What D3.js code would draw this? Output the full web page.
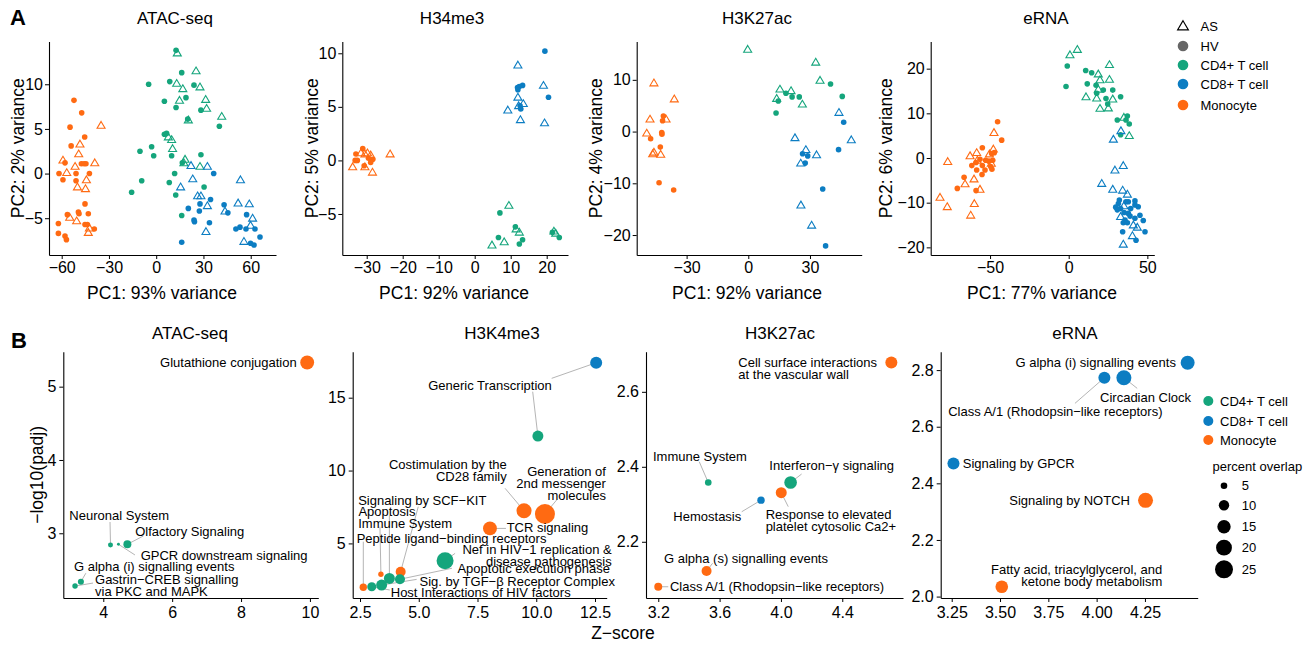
<!DOCTYPE html>
<html>
<head>
<meta charset="utf-8">
<script src="https://cdn.jsdelivr.net/npm/d3@7"></script>
<style>
body { margin: 0; background: #fff; }
svg text { font-family: "Liberation Sans", Arial, Helvetica, sans-serif; fill: #000; }
</style>
</head>
<body>
<svg id="chart" width="1314" height="646"></svg>
<script>
// ---------- data ----------
const cellKeys = ["CD4", "CD8", "Mono"];
const cellNames = ["CD4+ T cell", "CD8+ T cell", "Monocyte"];
const statusNames = ["AS", "HV"];

// PCA rows: [cell, status, PC1, PC2]
const atacPca = [
	["Mono","HV",-52.2,8.2],["Mono","HV",-47.3,6.8],["Mono","HV",-54.7,5.2],["Mono","HV",-45.4,4.1],["Mono","HV",-54.0,3.1],
	["Mono","HV",-47.5,1.1],["Mono","HV",-45.8,1.1],["Mono","HV",-44.6,1.1],["Mono","HV",-57.9,1.2],["Mono","HV",-61.7,0.0],
	["Mono","HV",-59.2,-0.7],["Mono","HV",-50.9,0.0],["Mono","HV",-50.9,-0.8],["Mono","HV",-42.4,0.0],["Mono","HV",-45.2,-3.4],
	["Mono","HV",-49.4,-4.3],["Mono","HV",-49.0,-4.5],["Mono","HV",-56.4,-4.6],["Mono","HV",-43.1,-4.5],["Mono","HV",-62.1,-5.6],
	["Mono","HV",-45.2,-5.7],["Mono","HV",-43.7,-5.7],["Mono","HV",-39.3,-6.2],["Mono","HV",-62.1,-6.7],["Mono","HV",-57.9,-7.0],
	["Mono","HV",-57.0,-7.4],
	["Mono","AS",-35.0,5.4],["Mono","AS",-48.4,3.3],["Mono","AS",-49.2,2.2],["Mono","AS",-59.2,1.5],["Mono","AS",-51.5,0.8],
	["Mono","AS",-39.0,1.2],["Mono","AS",-56.8,0.1],["Mono","AS",-44.3,-0.7],["Mono","AS",-50.0,-1.5],["Mono","AS",-44.9,-1.7],
	["Mono","AS",-54.9,-4.9],["Mono","AS",-50.5,-5.3],["Mono","AS",-42.4,-6.1],["Mono","AS",-43.1,-6.6],
	["CD4","HV",12.6,13.8],["CD4","HV",16.2,11.3],["CD4","HV",-4.8,10.0],["CD4","HV",8.6,10.3],["CD4","HV",24.0,9.9],
	["CD4","HV",5.2,8.1],["CD4","HV",18.9,8.5],["CD4","HV",12.6,7.4],["CD4","HV",20.0,6.1],["CD4","HV",40.1,5.3],
	["CD4","HV",5.2,4.4],["CD4","HV",6.6,4.5],["CD4","HV",-2.9,3.0],["CD4","HV",-10.3,2.5],["CD4","HV",-1.6,2.0],
	["CD4","HV",9.8,2.0],["CD4","HV",16.6,1.2],["CD4","HV",28.4,2.1],["CD4","HV",-9.2,-0.8],["CD4","HV",11.7,0.0],
	["CD4","HV",8.3,-1.0],["CD4","HV",12.4,-2.4],["CD4","HV",30.4,-1.5],["CD4","HV",16.2,-4.7],["CD4","HV",-15.6,-2.1],
	["CD4","HV",28.4,7.1],
	["CD4","AS",13.4,13.5],["CD4","AS",25.3,11.5],["CD4","AS",13.0,10.1],["CD4","AS",16.9,9.5],["CD4","AS",27.8,9.7],
	["CD4","AS",14.8,8.2],["CD4","AS",31.4,8.3],["CD4","AS",32.0,7.3],["CD4","AS",41.6,6.4],["CD4","AS",20.4,6.0],
	["CD4","AS",7.7,4.1],["CD4","AS",9.8,3.8],["CD4","AS",10.4,2.8],["CD4","AS",18.3,1.6],["CD4","AS",17.6,1.2],
	["CD4","AS",27.8,0.8],
	["CD8","HV",36.5,0.0],["CD8","HV",20.4,-3.9],["CD8","HV",27.4,-4.2],["CD8","HV",27.8,-3.4],["CD8","HV",34.5,-2.9],
	["CD8","HV",24.0,-5.2],["CD8","HV",24.3,-5.4],["CD8","HV",33.8,-5.5],["CD8","HV",43.1,-3.5],["CD8","HV",45.5,-4.4],
	["CD8","HV",16.2,-7.7],["CD8","HV",57.4,-4.6],["CD8","HV",50.6,-6.2],["CD8","HV",53.2,-6.0],["CD8","HV",57.0,-6.2],
	["CD8","HV",62.7,-6.2],["CD8","HV",65.9,-7.1],["CD8","HV",59.9,-7.8],["CD8","HV",62.1,-8.0],
	["CD8","AS",22.1,0.9],["CD8","AS",32.5,0.8],["CD8","AS",23.2,-0.6],["CD8","AS",15.5,-1.5],["CD8","AS",26.3,-2.5],
	["CD8","AS",28.4,-2.5],["CD8","AS",32.5,-3.6],["CD8","AS",43.7,-4.2],["CD8","AS",52.0,-3.3],["CD8","AS",59.1,-3.4],
	["CD8","AS",53.5,-0.7],["CD8","AS",61.2,-5.0],["CD8","AS",59.9,-5.8],["CD8","AS",31.6,-6.5],["CD8","AS",55.7,-7.6]
];

const h3k4Pca = [
	["Mono","HV",-31.1,1.1],["Mono","HV",-33.0,0.6],["Mono","HV",-33.2,0.0],["Mono","HV",-32.6,0.0],["Mono","HV",-28.3,0.1],
	["Mono","HV",-28.9,-0.2],["Mono","HV",-30.7,-0.5],["Mono","HV",-29.5,0.2],
	["Mono","AS",-30.5,0.6],["Mono","AS",-29.8,0.7],["Mono","AS",-28.9,0.5],["Mono","AS",-23.5,0.6],["Mono","AS",-33.9,-0.6],
	["Mono","AS",-30.5,-0.6],["Mono","AS",-28.4,-1.1],["Mono","AS",-31.6,0.7],
	["CD8","HV",19.5,10.2],["CD8","HV",11.9,6.8],["CD8","HV",12.4,6.9],["CD8","HV",13.3,7.0],["CD8","HV",12.6,5.1],
	["CD8","HV",12.8,4.8],["CD8","HV",20.5,5.9],["CD8","HV",12.0,6.6],
	["CD8","AS",12.0,8.9],["CD8","AS",19.1,7.0],["CD8","AS",12.0,5.9],["CD8","AS",13.5,5.3],["CD8","AS",9.2,4.7],
	["CD8","AS",12.7,3.8],["CD8","AS",19.4,3.5],["CD8","AS",12.2,5.1],
	["CD4","HV",7.0,-4.9],["CD4","HV",6.6,-7.2],["CD4","HV",11.3,-6.2],["CD4","HV",13.3,-7.4],["CD4","HV",12.4,-7.8],
	["CD4","HV",21.6,-6.7],["CD4","HV",23.5,-7.2],
	["CD4","AS",9.5,-4.2],["CD4","AS",4.8,-7.9],["CD4","AS",8.2,-7.6],["CD4","AS",11.5,-6.4],["CD4","AS",12.4,-6.7],
	["CD4","AS",22.0,-6.6],["CD4","AS",22.5,-6.8]
];

const h3k27Pca = [
	["Mono","AS",-45.9,9.4],["Mono","AS",-36.0,6.3],["Mono","AS",-47.8,2.4],["Mono","AS",-40.0,2.4],["Mono","AS",-49.4,-0.3],
	["Mono","AS",-45.9,-4.0],["Mono","AS",-46.5,-4.3],["Mono","AS",-42.6,-4.4],
	["Mono","HV",-41.3,3.0],["Mono","HV",-41.7,2.1],["Mono","HV",-42.1,-0.2],["Mono","HV",-42.0,-0.5],["Mono","HV",-47.5,-1.4],
	["Mono","HV",-42.8,-3.0],["Mono","HV",-43.4,-9.9],["Mono","HV",-36.3,-11.3],
	["CD4","AS",-0.3,15.9],["CD4","AS",32.8,13.4],["CD4","AS",34.9,9.9],["CD4","AS",15.4,8.2],["CD4","AS",20.8,7.9],
	["CD4","AS",13.8,6.4],["CD4","AS",26.3,5.3],
	["CD4","HV",40.0,9.2],["CD4","HV",45.7,6.8],["CD4","HV",18.3,7.4],["CD4","HV",14.6,5.9],["CD4","HV",21.3,6.7],
	["CD4","HV",24.8,6.7],["CD4","HV",13.5,3.6],
	["CD8","AS",22.7,-1.2],["CD8","AS",28.0,-3.5],["CD8","AS",25.5,-6.1],["CD8","AS",33.2,-4.5],["CD8","AS",44.1,3.7],
	["CD8","AS",50.1,-1.6],["CD8","AS",25.6,-14.2],["CD8","AS",30.8,-18.1],
	["CD8","HV",46.4,1.8],["CD8","HV",43.9,-3.5],["CD8","HV",26.4,-4.3],["CD8","HV",28.9,-4.7],["CD8","HV",27.7,-6.1],
	["CD8","HV",36.2,-11.1],["CD8","HV",37.6,-22.1]
];

const ernaPca = [
	["CD4","AS",0.8,23.1],["CD4","AS",5.5,24.3],["CD4","AS",25.9,20.9],["CD4","AS",18.8,18.8],["CD4","AS",19.9,17.5],
	["CD4","AS",25.9,17.6],["CD4","AS",11.0,13.7],["CD4","AS",17.8,13.4],["CD4","AS",18.8,15.4],["CD4","AS",28.0,13.2],
	["CD4","AS",19.9,11.1],["CD4","AS",25.2,11.2],["CD4","AS",38.5,5.0],["CD4","AS",35.1,9.1],
	["CD4","HV",-0.9,20.6],["CD4","HV",-1.7,16.0],["CD4","HV",10.8,19.6],["CD4","HV",14.6,19.1],["CD4","HV",11.8,16.6],
	["CD4","HV",17.4,16.3],["CD4","HV",17.8,14.5],["CD4","HV",23.7,13.3],["CD4","HV",22.0,15.2],["CD4","HV",28.0,15.2],
	["CD4","HV",33.0,13.7],["CD4","HV",30.9,8.5],["CD4","HV",36.4,8.5],["CD4","HV",37.3,9.4],["CD4","HV",38.5,7.6],
	["CD4","HV",33.0,5.2],["CD4","HV",24.8,12.1],
	["Mono","HV",-45.2,8.1],["Mono","HV",-42.6,4.0],["Mono","HV",-54.9,2.3],["Mono","HV",-47.3,1.2],["Mono","HV",-49.0,1.0],
	["Mono","HV",-50.7,-0.7],["Mono","HV",-56.4,-0.3],["Mono","HV",-58.9,-1.0],["Mono","HV",-52.8,-0.5],["Mono","HV",-49.6,-1.9],
	["Mono","HV",-54.9,-1.7],["Mono","HV",-55.1,-3.7],["Mono","HV",-53.2,-2.7],["Mono","HV",-58.5,-2.7],["Mono","HV",-66.5,-4.3],
	["Mono","HV",-70.8,-6.8],["Mono","HV",-58.9,-7.3],["Mono","HV",-48.8,-2.5],["Mono","HV",-48.3,-0.5],["Mono","HV",-61.6,-1.7],
	["Mono","AS",-47.5,5.7],["Mono","AS",-47.9,2.0],["Mono","AS",-50.4,0.9],["Mono","AS",-62.7,0.5],["Mono","AS",-58.5,1.2],
	["Mono","AS",-76.9,-0.8],["Mono","AS",-58.1,-0.5],["Mono","AS",-65.9,-5.8],["Mono","AS",-60.2,-4.7],["Mono","AS",-56.4,-7.0],
	["Mono","AS",-60.0,-10.2],["Mono","AS",-81.8,-8.8],["Mono","AS",-77.2,-10.9],["Mono","AS",-62.3,-12.8],["Mono","AS",-49.2,-1.2],
	["CD8","AS",33.2,6.1],["CD8","AS",28.4,4.2],["CD8","AS",34.7,-1.7],["CD8","AS",29.4,-2.7],["CD8","AS",21.0,-5.7],
	["CD8","AS",28.0,-7.0],["CD8","AS",34.3,-7.2],["CD8","AS",37.3,-8.1],["CD8","AS",35.1,-10.7],["CD8","AS",33.0,-13.1],
	["CD8","AS",41.1,-15.0],["CD8","AS",43.6,-15.5],["CD8","AS",40.5,-17.4],["CD8","AS",34.7,-19.3],
	["CD8","HV",32.2,-9.4],["CD8","HV",36.4,-9.8],["CD8","HV",37.9,-9.8],["CD8","HV",42.1,-9.6],["CD8","HV",31.6,-10.2],
	["CD8","HV",29.9,-11.0],["CD8","HV",33.0,-11.3],["CD8","HV",39.4,-11.3],["CD8","HV",42.1,-10.5],["CD8","HV",44.2,-10.9],
	["CD8","HV",45.3,-12.8],["CD8","HV",35.2,-12.2],["CD8","HV",37.9,-12.4],["CD8","HV",35.8,-13.9],["CD8","HV",42.1,-13.5],
	["CD8","HV",47.4,-14.0],["CD8","HV",34.7,-14.5],["CD8","HV",37.3,-14.5],["CD8","HV",34.3,-16.5],["CD8","HV",42.8,-18.4],
	["CD8","HV",48.5,-16.5],["CD8","HV",30.9,-11.6],["CD8","HV",39.0,-13.0]
];

const pcaTitles = ["ATAC-seq", "H34me3", "H3K27ac", "eRNA"];
const pc1Var = [93, 92, 92, 77];
const pc2Var = [2, 5, 4, 6];
const pcaXTicks = [[-60, -30, 0, 30, 60], [-30, -20, -10, 0, 10, 20], [-30, 0, 30], [-50, 0, 50]];
const pcaYTicks = [[-5, 0, 5, 10], [-5, 0, 5, 10], [-20, -10, 0, 10], [-20, -10, 0, 10, 20]];

// pathway rows: [pathway, cell, Z-score, -log10(padj), percent overlap]
const atacPath = [
	["Glutathione conjugation", "Mono", 9.92, 5.33, 16],
	["Neuronal System", "CD4", 4.21, 2.84, 3.4],
	["GPCR downstream signaling", "CD4", 4.44, 2.85, 1.8],
	["Olfactory Signaling", "CD4", 4.70, 2.85, 6.6],
	["G alpha (i) signalling events", "CD4", 3.35, 2.34, 4.4],
	["Gastrin\u2212CREB signalling via PKC and MAPK", "CD4", 3.18, 2.28, 3.8]
];
const h3k4Path = [
	["Generic Transcription", "CD8", 12.55, 17.4, 12.6],
	["Generic Transcription", "CD4", 10.07, 12.37, 10.9],
	["Costimulation by the CD28 family", "Mono", 9.48, 7.24, 18.3],
	["Generation of 2nd messenger molecules", "Mono", 10.37, 7.02, 30],
	["TCR signaling", "Mono", 8.03, 6.03, 16],
	["Nef in HIV\u22121 replication & disease pathogenesis", "CD4", 6.12, 3.81, 22.6],
	["Signaling by SCF\u2212KIT", "Mono", 4.23, 3.06, 9.4],
	["Immune System", "Mono", 3.39, 2.88, 3.8],
	["Peptide ligand\u2212binding receptors", "Mono", 2.64, 1.99, 5.9],
	["Apoptosis", "CD4", 3.75, 2.60, 10.9],
	["Apoptotic execution phase", "CD4", 4.2, 2.54, 9.4],
	["Sig. by TGF\u2212\u03b2 Receptor Complex", "CD4", 3.42, 2.14, 10.9],
	["Host Interactions of HIV factors", "CD4", 3.0, 2.03, 8]
];
const h3k27Path = [
	["Cell surface interactions at the vascular wall", "Mono", 4.72, 2.678, 12.6],
	["Immune System", "CD4", 3.526, 2.358, 5],
	["Interferon\u2212\u03b3 signaling", "CD4", 4.063, 2.358, 13.6],
	["Response to elevated platelet cytosolic Ca2+", "Mono", 4.002, 2.331, 10.9],
	["Hemostasis", "CD8", 3.87, 2.311, 5.9],
	["G alpha (s) signalling events", "Mono", 3.515, 2.122, 9.4],
	["Class A/1 (Rhodopsin\u2212like receptors)", "Mono", 3.2, 2.08, 6.6]
];
const ernaPath = [
	["G alpha (i) signalling events", "CD8", 4.471, 2.826, 16.2],
	["Class A/1 (Rhodopsin\u2212like receptors)", "CD8", 4.04, 2.773, 12.6],
	["Circadian Clock", "CD8", 4.141, 2.773, 18.3],
	["Signaling by GPCR", "CD8", 3.259, 2.47, 12.6],
	["Signaling by NOTCH", "Mono", 4.253, 2.34, 18.3],
	["Fatty acid, triacylglycerol, and ketone body metabolism", "Mono", 3.509, 2.035, 13.6]
];

const pathTitles = ["ATAC-seq", "H3K4me3", "H3K27ac", "eRNA"];
const pathXTicks = [[4, 6, 8, 10], [2.5, 5, 7.5, 10, 12.5], [3.2, 3.6, 4.0, 4.4], [3.25, 3.5, 3.75, 4, 4.25]];
const pathYTicks = [[3, 4, 5], [5, 10, 15], [2.2, 2.4, 2.6], [2.0, 2.2, 2.4, 2.6, 2.8]];
const overlapTicks = [5, 10, 15, 20, 25];

// ---------- layout & style ----------
const colors = { CD4: "#15a57c", CD8: "#0c7dc2", Mono: "#ff6a12" };
const hvGrey = "#666666";
const segGrey = "#b5b5b5";

const pcaPanels = [
	{ x0: 49, x1: 276, xdom: [-68.06, 76.06], ydom: [-9.12, 14.79], title: 175, ylab: 18, xlab: 162 },
	{ x0: 342.3, x1: 568, xdom: [-36.78, 25.92], ydom: [-8.83, 11.10], title: 452, ylab: 312, xlab: 454 },
	{ x0: 636.7, x1: 861.7, xdom: [-54.28, 55.16], ydom: [-23.86, 17.41], title: 757, ylab: 596, xlab: 747 },
	{ x0: 930.7, x1: 1154.3, xdom: [-87.73, 54.42], ydom: [-21.71, 26.08], title: 1046, ylab: 886, xlab: 1042 }
];
const pcaTop = 41.5, pcaBottom = 255;

const pathPanels = [
	{ x0: 63.3, x1: 318.3, xdom: [2.839, 10.243], ydom: [2.117, 5.477], title: 190, fx: "d", fy: "d" },
	{ x0: 352.7, x1: 606.7, xdom: [2.189, 12.998], ydom: [1.254, 18.157], title: 502, fx: ".1f", fy: "d" },
	{ x0: 646, x1: 903, xdom: [3.12, 4.796], ydom: [2.05, 2.707], title: 780, fx: ".1f", fy: ".1f" },
	{ x0: 940.7, x1: 1197.7, xdom: [3.193, 4.523], ydom: [1.995, 2.865], title: 1075, fx: ".2f", fy: ".1f" }
];
const pathTop = 351.7, pathBottom = 598;

// label placement (pixel offsets from the point): lines, anchor, dx, dy, segment end
const atacLabels = [
	{ t: ["Glutathione conjugation"], a: "end", dx: -10.5, dy: 0 },
	{ t: ["Neuronal System"], a: "middle", dx: 8.7, dy: -29.3, s: [-0.5, -23] },
	{ t: ["GPCR downstream signaling"], a: "middle", dx: 105.7, dy: 11.4, s: [16.5, 10.7] },
	{ t: ["Olfactory Signaling"], a: "middle", dx: 62.3, dy: -13.3, s: [16, -8.3] },
	{ t: ["G alpha (i) signalling events"], a: "middle", dx: 73.3, dy: -15, s: [5, -8.5] },
	{ t: ["Gastrin\u2212CREB signalling", "via PKC and MAPK"], a: "start", dx: 20, dy: -6.8, s: [18, -3] }
];
const h3k4Labels = [
	{ t: ["Generic Transcription"], a: "middle", dx: -106.2, dy: 23, s: [-44.5, 15.6] },
	{ t: [], a: "middle", dx: 0, dy: 0, s: [-5.2, -44.3] },
	{ t: ["Costimulation by the", "CD28 family"], a: "end", dx: -17.3, dy: -46.8, s: [-19, -22.5] },
	{ t: ["Generation of", "2nd messenger", "molecules"], a: "end", dx: 61, dy: -43, s: [11.7, -14] },
	{ t: ["TCR signaling"], a: "start", dx: 16.7, dy: -1, s: [16, 0] },
	{ t: ["Nef in HIV\u22121 replication &", "disease pathogenesis"], a: "end", dx: 166.6, dy: -11.4, s: [10, -7.4] },
	{ t: ["Signaling by SCF\u2212KIT"], a: "middle", dx: 21.6, dy: -71.7, s: [17.6, -65] },
	{ t: ["Immune System"], a: "start", dx: -22.7, dy: -51, s: [-1, -47.6] },
	{ t: ["Peptide ligand\u2212binding receptors"], a: "start", dx: -6.6, dy: -49, s: [0, -45.6] },
	{ t: ["Apoptosis"], a: "start", dx: -31, dy: -67.3, s: [0, -63] },
	{ t: ["Apoptotic execution  phase"], a: "end", dx: 210, dy: -10.6, s: [52, -11] },
	{ t: ["Sig. by TGF\u2212\u03b2 Receptor Complex"], a: "end", dx: 233.3, dy: -3.3, s: [35, -5.7] },
	{ t: ["Host Interactions of HIV factors"], a: "start", dx: 19, dy: 6, s: [18, 3.3] }
];
const h3k27Labels = [
	{ t: ["Cell surface interactions", "at the vascular wall"], a: "start", dx: -153, dy: 0 },
	{ t: ["Immune System"], a: "middle", dx: -8.3, dy: -26.5, s: [-9, -20.8] },
	{ t: ["Interferon\u2212\u03b3 signaling"], a: "middle", dx: 41.1, dy: -16.8, s: [11, -8.5] },
	{ t: ["Response to elevated", "platelet cytosolic Ca2+"], a: "start", dx: -15.6, dy: 21.4, s: [7, 14] },
	{ t: ["Hemostasis"], a: "middle", dx: -53.7, dy: 16.6, s: [-19.3, 11.6] },
	{ t: ["G alpha (s) signalling events"], a: "middle", dx: 39.4, dy: -12.7, s: [6, -7.7] },
	{ t: ["Class A/1 (Rhodopsin\u2212like receptors)"], a: "start", dx: 11.7, dy: 0, s: [10, 0] }
];
const ernaLabels = [
	{ t: ["G alpha (i) signalling events"], a: "end", dx: -11.7, dy: 0 },
	{ t: ["Class A/1 (Rhodopsin\u2212like receptors)"], a: "middle", dx: -49, dy: 33.3, s: [-29.4, 25.6] },
	{ t: ["Circadian Clock"], a: "middle", dx: 21.7, dy: 19.6, s: [13.3, 10.6] },
	{ t: ["Signaling by GPCR"], a: "start", dx: 9.3, dy: 0 },
	{ t: ["Signaling by NOTCH"], a: "end", dx: -15.6, dy: 0 },
	{ t: ["Fatty acid, triacylglycerol, and", "ketone body metabolism"], a: "end", dx: 160.5, dy: -17.3 }
];

const svg = d3.select("#chart");
const sizeScale = d3.scaleSqrt().domain([5, 25]).range([3.3, 9]);
const triPath = "M0,-3.9L4,2.9L-4,2.9Z";
const tickFont = 16;
const titleFont = 17;
const labelFont = 13;

function styleAxis(sel) {
	sel.select(".domain").attr("stroke", "#000").attr("stroke-width", 1.1);
	sel.selectAll(".tick line").attr("stroke", "#000").attr("stroke-width", 1);
	sel.selectAll(".tick text")
		.attr("fill", "#111")
		.style("font-size", tickFont + "px")
		.style("font-family", '"Liberation Sans", Arial, sans-serif');
}

function drawPca(i, rows) {
	let p = pcaPanels[i];
	let x = d3.scaleLinear().domain(p.xdom).range([p.x0, p.x1]);
	let y = d3.scaleLinear().domain(p.ydom).range([pcaBottom, pcaTop]);
	let g = svg.append("g");

	g.append("g")
		.attr("transform", "translate(0," + pcaBottom + ")")
		.call(d3.axisBottom(x).tickValues(pcaXTicks[i]).tickSize(4).tickSizeOuter(0).tickPadding(3))
		.call(styleAxis);
	g.append("g")
		.attr("transform", "translate(" + p.x0 + ",0)")
		.call(d3.axisLeft(y).tickValues(pcaYTicks[i]).tickSize(4).tickSizeOuter(0).tickPadding(2))
		.call(styleAxis);

	// HV = filled circles, AS = open triangles
	g.selectAll("circle.hv")
		.data(rows.filter(d => d[1] === "HV"))
		.enter()
		.append("circle")
		.attr("cx", d => x(d[2]))
		.attr("cy", d => y(d[3]))
		.attr("r", 2.8)
		.attr("fill", d => colors[d[0]]);
	g.selectAll("path.as")
		.data(rows.filter(d => d[1] === "AS"))
		.enter()
		.append("path")
		.attr("d", triPath)
		.attr("transform", d => "translate(" + x(d[2]) + "," + y(d[3]) + ")")
		.attr("fill", "none")
		.attr("stroke", d => colors[d[0]])
		.attr("stroke-width", 1.1);

	g.append("text").attr("x", p.title).attr("y", 18).attr("dy", "0.35em")
		.attr("text-anchor", "middle").style("font-size", titleFont + "px").text(pcaTitles[i]);
	g.append("text").attr("x", p.xlab).attr("y", 293).attr("dy", "0.35em")
		.attr("text-anchor", "middle").style("font-size", "17.5px")
		.text("PC1: " + pc1Var[i] + "% variance");
	g.append("text")
		.attr("transform", "translate(" + p.ylab + "," + ((pcaTop + pcaBottom) / 2) + ") rotate(-90)")
		.attr("dy", "0.35em").attr("text-anchor", "middle").style("font-size", "17.5px")
		.text("PC2: " + pc2Var[i] + "% variance");
}

function drawPath(i, rows, labels) {
	let p = pathPanels[i];
	let x = d3.scaleLinear().domain(p.xdom).range([p.x0, p.x1]);
	let y = d3.scaleLinear().domain(p.ydom).range([pathBottom, pathTop]);
	let g = svg.append("g");

	g.append("g")
		.attr("transform", "translate(0," + pathBottom + ")")
		.call(d3.axisBottom(x).tickValues(pathXTicks[i]).tickFormat(d3.format(p.fx))
			.tickSize(4).tickSizeOuter(0).tickPadding(5))
		.call(styleAxis);
	g.append("g")
		.attr("transform", "translate(" + p.x0 + ",0)")
		.call(d3.axisLeft(y).tickValues(pathYTicks[i]).tickFormat(d3.format(p.fy))
			.tickSize(4).tickSizeOuter(0).tickPadding(3))
		.call(styleAxis);

	// repel segments
	rows.forEach(function(d, k) {
		let l = labels[k];
		if (!l.s) return;
		let px = x(d[2]), py = y(d[3]);
		g.append("line")
			.attr("x1", px).attr("y1", py)
			.attr("x2", px + l.s[0]).attr("y2", py + l.s[1])
			.attr("stroke", segGrey).attr("stroke-width", 1);
	});

	g.selectAll("circle.pt")
		.data(rows)
		.enter()
		.append("circle")
		.attr("cx", d => x(d[2]))
		.attr("cy", d => y(d[3]))
		.attr("r", d => sizeScale(d[4]))
		.attr("fill", d => colors[d[1]]);

	rows.forEach(function(d, k) {
		let l = labels[k];
		let px = x(d[2]), py = y(d[3]);
		l.t.forEach(function(line, j) {
			g.append("text")
				.attr("x", px + l.dx)
				.attr("y", py + l.dy + j * 12)
				.attr("dy", "0.35em")
				.attr("text-anchor", l.a)
				.style("font-size", labelFont + "px")
				.text(line);
		});
	});

	g.append("text").attr("x", p.title).attr("y", 333).attr("dy", "0.35em")
		.attr("text-anchor", "middle").style("font-size", titleFont + "px").text(pathTitles[i]);
}

[atacPca, h3k4Pca, h3k27Pca, ernaPca].forEach((rows, i) => drawPca(i, rows));
[[atacPath, atacLabels], [h3k4Path, h3k4Labels], [h3k27Path, h3k27Labels], [ernaPath, ernaLabels]]
	.forEach((pair, i) => drawPath(i, pair[0], pair[1]));

// shared labels of panel B
svg.append("text")
	.attr("transform", "translate(37," + ((pathTop + pathBottom) / 2) + ") rotate(-90)")
	.attr("dy", "0.35em").attr("text-anchor", "middle").style("font-size", "17.5px")
	.text("\u2212log10(padj)");
svg.append("text").attr("x", 623).attr("y", 633).attr("dy", "0.35em")
	.attr("text-anchor", "middle").style("font-size", "17.5px").text("Z\u2212score");

// panel letters
svg.append("text").attr("x", 10).attr("y", 17).attr("dy", "0.35em")
	.style("font-size", "22px").style("font-weight", "bold").text("A");
svg.append("text").attr("x", 11).attr("y", 340).attr("dy", "0.35em")
	.style("font-size", "22px").style("font-weight", "bold").text("B");

// legend of panel A
let legA = svg.append("g");
legA.append("path").attr("d", triPath)
	.attr("transform", "translate(1183,26) scale(1.35)")
	.attr("fill", "none").attr("stroke", "#000").attr("stroke-width", 0.85);
legA.append("text").attr("x", 1200.5).attr("y", 26).attr("dy", "0.35em")
	.style("font-size", "13px").text(statusNames[0]);
legA.append("circle").attr("cx", 1183).attr("cy", 46).attr("r", 5.3).attr("fill", hvGrey);
legA.append("text").attr("x", 1200.5).attr("y", 46).attr("dy", "0.35em")
	.style("font-size", "13px").text(statusNames[1]);
let legAY = [65, 84, 105];
cellKeys.forEach(function(k, i) {
	legA.append("circle").attr("cx", 1183).attr("cy", legAY[i]).attr("r", 5.3).attr("fill", colors[k]);
	legA.append("text").attr("x", 1200.5).attr("y", legAY[i]).attr("dy", "0.35em")
		.style("font-size", "13px").text(cellNames[i]);
});

// legend of panel B
let legB = svg.append("g");
let legBY = [401, 421, 440];
cellKeys.forEach(function(k, i) {
	legB.append("circle").attr("cx", 1208.3).attr("cy", legBY[i]).attr("r", 5).attr("fill", colors[k]);
	legB.append("text").attr("x", 1220).attr("y", legBY[i]).attr("dy", "0.35em")
		.style("font-size", "13px").text(cellNames[i]);
});
legB.append("text").attr("x", 1212.5).attr("y", 466.7).attr("dy", "0.35em")
	.style("font-size", "13px").text("percent overlap");
let sizeY = [485.7, 505.3, 526.7, 547.7, 569.3];
overlapTicks.forEach(function(v, i) {
	legB.append("circle").attr("cx", 1224).attr("cy", sizeY[i]).attr("r", sizeScale(v)).attr("fill", "#000");
	legB.append("text").attr("x", 1241.7).attr("y", sizeY[i]).attr("dy", "0.35em")
		.style("font-size", "13px").text(v);
});
</script>
</body>
</html>
